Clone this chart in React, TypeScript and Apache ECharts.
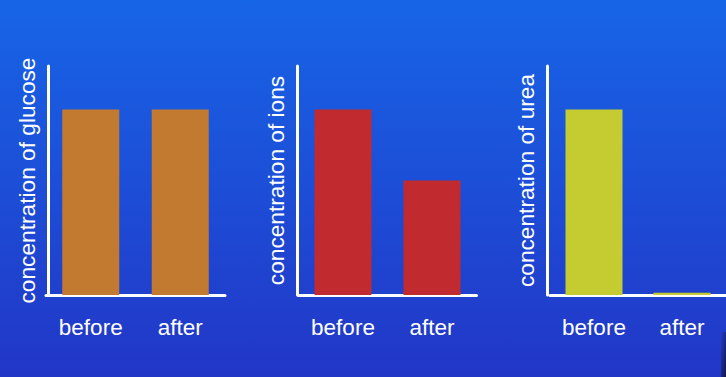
import React, { useEffect, useRef } from "react";
import * as echarts from "echarts";

const categories = ["before", "after"];
const glucose = [81, 81];
const ions = [81, 50];
const urea = [81, 1];
const names = ["concentration of glucose", "concentration of ions", "concentration of urea"];
const colors = ["#c27a30", "#c12b2f", "#c4cc31"];

export default function App() {
  const ref = useRef<HTMLDivElement>(null);
  useEffect(() => {
    const chart = echarts.init(ref.current!, null, { renderer: "svg" });
    const series = [glucose, ions, urea];
    const grids = [
      { left: 46, width: 179, top: 66, bottom: 82 },
      { left: 298.5, width: 178, top: 66, bottom: 82 },
      { left: 550, width: 179, top: 66, bottom: 82 },
    ];
    const yOffsets = [-2, 1.5, 3];
    const font = "'Liberation Sans', Arial, Helvetica, sans-serif";
    chart.setOption({
      animation: false,
      backgroundColor: {
        type: "linear", x: 0, y: 0, x2: 0, y2: 1,
        colorStops: [
          { offset: 0, color: "#1765e7" },
          { offset: 1, color: "#2236c6" },
        ],
      },
      grid: grids,
      graphic: [
        {
          type: "rect",
          right: 0,
          bottom: 0,
          shape: { width: 5, height: 45 },
          style: {
            fill: {
              type: "linear", x: 0, y: 0, x2: 1, y2: 1,
              colorStops: [
                { offset: 0, color: "rgba(20,20,60,0)" },
                { offset: 1, color: "rgba(20,20,50,0.9)" },
              ],
            },
          },
          silent: true,
        },
      ],
      xAxis: grids.map((_, i) => ({
        type: "category",
        gridIndex: i,
        data: categories,
        axisLine: { lineStyle: { color: "#ffffff", width: 3 } },
        axisTick: { show: false },
        axisLabel: { color: "#ffffff", fontSize: 22.5, fontFamily: font, margin: 21 },
      })),
      yAxis: grids.map((_, i) => ({
        type: "value",
        gridIndex: i,
        min: 0,
        max: 100,
        offset: yOffsets[i],
        name: names[i],
        nameLocation: "middle",
        nameRotate: 90,
        nameGap: 10,
        nameTextStyle: { color: "#ffffff", fontSize: 22.7, fontFamily: font },
        axisLine: { show: true, lineStyle: { color: "#ffffff", width: 3 } },
        axisTick: { show: false },
        axisLabel: { show: false },
        splitLine: { show: false },
      })),
      series: series.map((d, i) => ({
        type: "bar",
        xAxisIndex: i,
        yAxisIndex: i,
        data: d,
        barWidth: 57,
        itemStyle: { color: colors[i] },
      })),
    });
    return () => chart.dispose();
  }, []);
  return <div ref={ref} style={{ width: 726, height: 377, position: "absolute", left: 0, top: 0 }} />;
}
